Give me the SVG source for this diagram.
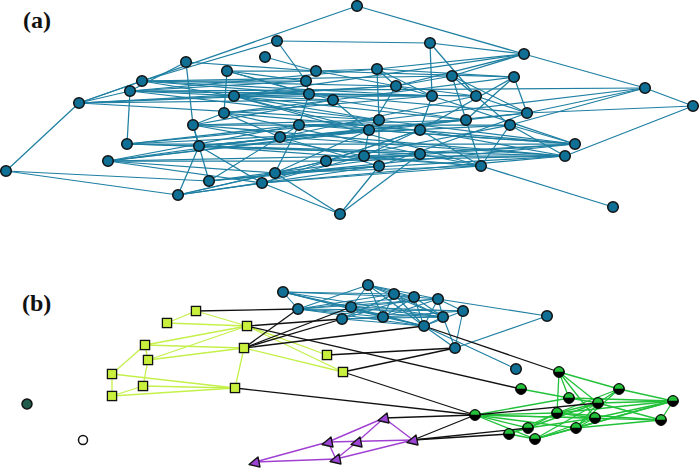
<svg xmlns="http://www.w3.org/2000/svg" xmlns:xlink="http://www.w3.org/1999/xlink" width="700" height="468" viewBox="0 0 700 468">
<style>
.ea{stroke:#1e7fa2;stroke-width:1.25;fill:none}
.eb{stroke:#1e7fa2;stroke-width:1.1;fill:none}
.el{stroke:#c4f04a;stroke-width:1.3;fill:none}
.eg{stroke:#22c13a;stroke-width:1.3;fill:none}
.ep{stroke:#a040d2;stroke-width:1.4;fill:none}
.ek{stroke:#111;stroke-width:1.3;fill:none}
.nb circle{fill:#0f6f94;stroke:#111;stroke-width:1.5}
.lbl{font-family:"Liberation Serif","Times New Roman",serif;font-weight:bold;font-size:24px;fill:#111}
</style>
<defs>
<g id="gn"><circle r="5.4" fill="#000" stroke="#000" stroke-width="1"/><path d="M-4.4,-0.3 A4.4,4.4 0 0 1 4.4,-0.3 Z" fill="#24c23a"/></g>
<rect id="sq" x="-4.6" y="-4.6" width="9.2" height="9.2" fill="#c8f03c" stroke="#111" stroke-width="1.3"/>
<polygon id="tri" points="-6,2.5 3,-5 5,5" fill="#9c45d4" stroke="#111" stroke-width="1.3" stroke-linejoin="round"/>
</defs>
<rect width="700" height="468" fill="#fff"/>
<text class="lbl" x="23" y="28">(a)</text>
<text class="lbl" x="22" y="311">(b)</text>
<g id="connectors">
<g id="edges-a">
<line class="ea" x1="357" y1="6" x2="79" y2="103"/><line class="ea" x1="357" y1="6" x2="524" y2="54"/>
<line class="ea" x1="277" y1="41" x2="430" y2="43"/><line class="ea" x1="277" y1="41" x2="306" y2="81"/>
<line class="ea" x1="277" y1="41" x2="142" y2="81"/><line class="ea" x1="430" y1="43" x2="524" y2="54"/>
<line class="ea" x1="430" y1="43" x2="432" y2="96"/><line class="ea" x1="430" y1="43" x2="476" y2="96"/>
<line class="ea" x1="265" y1="57" x2="316" y2="71"/><line class="ea" x1="186" y1="62" x2="193" y2="125"/>
<line class="ea" x1="186" y1="62" x2="130" y2="91"/><line class="ea" x1="186" y1="62" x2="316" y2="71"/>
<line class="ea" x1="524" y1="54" x2="645" y2="88"/><line class="ea" x1="524" y1="54" x2="377" y2="69"/>
<line class="ea" x1="524" y1="54" x2="452" y2="76"/><line class="ea" x1="524" y1="54" x2="396" y2="86"/>
<line class="ea" x1="524" y1="54" x2="234" y2="96"/><line class="ea" x1="227" y1="71" x2="224" y2="113"/>
<line class="ea" x1="227" y1="71" x2="316" y2="71"/><line class="ea" x1="227" y1="71" x2="306" y2="81"/>
<line class="ea" x1="227" y1="71" x2="333" y2="100"/><line class="ea" x1="227" y1="71" x2="309" y2="94"/>
<line class="ea" x1="316" y1="71" x2="377" y2="69"/><line class="ea" x1="316" y1="71" x2="514" y2="77"/>
<line class="ea" x1="316" y1="71" x2="396" y2="86"/><line class="ea" x1="377" y1="69" x2="396" y2="86"/>
<line class="ea" x1="377" y1="69" x2="379" y2="120"/><line class="ea" x1="377" y1="69" x2="514" y2="77"/>
<line class="ea" x1="377" y1="69" x2="432" y2="96"/><line class="ea" x1="377" y1="69" x2="130" y2="91"/>
<line class="ea" x1="452" y1="76" x2="476" y2="96"/><line class="ea" x1="452" y1="76" x2="396" y2="86"/>
<line class="ea" x1="452" y1="76" x2="142" y2="81"/><line class="ea" x1="452" y1="76" x2="527" y2="113"/>
<line class="ea" x1="452" y1="76" x2="466" y2="120"/><line class="ea" x1="514" y1="77" x2="527" y2="113"/>
<line class="ea" x1="514" y1="77" x2="420" y2="130"/><line class="ea" x1="514" y1="77" x2="466" y2="120"/>
<line class="ea" x1="514" y1="77" x2="333" y2="100"/><line class="ea" x1="142" y1="81" x2="79" y2="103"/>
<line class="ea" x1="142" y1="81" x2="306" y2="81"/><line class="ea" x1="142" y1="81" x2="309" y2="94"/>
<line class="ea" x1="142" y1="81" x2="379" y2="120"/><line class="ea" x1="142" y1="81" x2="396" y2="86"/>
<line class="ea" x1="142" y1="81" x2="432" y2="96"/><line class="ea" x1="306" y1="81" x2="309" y2="94"/>
<line class="ea" x1="306" y1="81" x2="130" y2="91"/><line class="ea" x1="396" y1="86" x2="234" y2="96"/>
<line class="ea" x1="396" y1="86" x2="369" y2="130"/><line class="ea" x1="396" y1="86" x2="432" y2="96"/>
<line class="ea" x1="396" y1="86" x2="476" y2="96"/><line class="ea" x1="645" y1="88" x2="693" y2="106"/>
<line class="ea" x1="645" y1="88" x2="527" y2="113"/><line class="ea" x1="645" y1="88" x2="379" y2="120"/>
<line class="ea" x1="645" y1="88" x2="510" y2="125"/><line class="ea" x1="645" y1="88" x2="130" y2="91"/>
<line class="ea" x1="130" y1="91" x2="79" y2="103"/><line class="ea" x1="130" y1="91" x2="127" y2="144"/>
<line class="ea" x1="130" y1="91" x2="333" y2="100"/><line class="ea" x1="130" y1="91" x2="379" y2="120"/>
<line class="ea" x1="130" y1="91" x2="432" y2="96"/><line class="ea" x1="130" y1="91" x2="476" y2="96"/>
<line class="ea" x1="309" y1="94" x2="299" y2="125"/><line class="ea" x1="309" y1="94" x2="79" y2="103"/>
<line class="ea" x1="309" y1="94" x2="476" y2="96"/><line class="ea" x1="309" y1="94" x2="527" y2="113"/>
<line class="ea" x1="234" y1="96" x2="79" y2="103"/><line class="ea" x1="234" y1="96" x2="466" y2="120"/>
<line class="ea" x1="234" y1="96" x2="432" y2="96"/><line class="ea" x1="234" y1="96" x2="369" y2="130"/>
<line class="ea" x1="234" y1="96" x2="481" y2="166"/><line class="ea" x1="333" y1="100" x2="224" y2="113"/>
<line class="ea" x1="333" y1="100" x2="466" y2="120"/><line class="ea" x1="333" y1="100" x2="369" y2="130"/>
<line class="ea" x1="333" y1="100" x2="193" y2="125"/><line class="ea" x1="432" y1="96" x2="420" y2="130"/>
<line class="ea" x1="432" y1="96" x2="224" y2="113"/><line class="ea" x1="432" y1="96" x2="575" y2="144"/>
<line class="ea" x1="476" y1="96" x2="527" y2="113"/><line class="ea" x1="476" y1="96" x2="510" y2="125"/>
<line class="ea" x1="476" y1="96" x2="280" y2="137"/><line class="ea" x1="79" y1="103" x2="6" y2="171"/>
<line class="ea" x1="79" y1="103" x2="379" y2="120"/><line class="ea" x1="79" y1="103" x2="333" y2="100"/>
<line class="ea" x1="79" y1="103" x2="396" y2="86"/><line class="ea" x1="693" y1="106" x2="527" y2="113"/>
<line class="ea" x1="693" y1="106" x2="565" y2="156"/><line class="ea" x1="224" y1="113" x2="193" y2="125"/>
<line class="ea" x1="224" y1="113" x2="280" y2="137"/><line class="ea" x1="224" y1="113" x2="575" y2="144"/>
<line class="ea" x1="224" y1="113" x2="420" y2="154"/><line class="ea" x1="527" y1="113" x2="466" y2="120"/>
<line class="ea" x1="527" y1="113" x2="199" y2="146"/><line class="ea" x1="527" y1="113" x2="379" y2="166"/>
<line class="ea" x1="379" y1="120" x2="379" y2="166"/><line class="ea" x1="379" y1="120" x2="575" y2="144"/>
<line class="ea" x1="379" y1="120" x2="127" y2="144"/><line class="ea" x1="379" y1="120" x2="193" y2="125"/>
<line class="ea" x1="466" y1="120" x2="481" y2="166"/><line class="ea" x1="466" y1="120" x2="299" y2="125"/>
<line class="ea" x1="466" y1="120" x2="199" y2="146"/><line class="ea" x1="466" y1="120" x2="108" y2="161"/>
<line class="ea" x1="193" y1="125" x2="199" y2="146"/><line class="ea" x1="193" y1="125" x2="565" y2="156"/>
<line class="ea" x1="193" y1="125" x2="364" y2="156"/><line class="ea" x1="193" y1="125" x2="510" y2="125"/>
<line class="ea" x1="193" y1="125" x2="209" y2="181"/><line class="ea" x1="299" y1="125" x2="275" y2="173"/>
<line class="ea" x1="299" y1="125" x2="280" y2="137"/><line class="ea" x1="299" y1="125" x2="127" y2="144"/>
<line class="ea" x1="299" y1="125" x2="420" y2="130"/><line class="ea" x1="299" y1="125" x2="575" y2="144"/>
<line class="ea" x1="299" y1="125" x2="108" y2="161"/><line class="ea" x1="510" y1="125" x2="481" y2="166"/>
<line class="ea" x1="510" y1="125" x2="575" y2="144"/><line class="ea" x1="510" y1="125" x2="565" y2="156"/>
<line class="ea" x1="510" y1="125" x2="326" y2="161"/><line class="ea" x1="510" y1="125" x2="127" y2="144"/>
<line class="ea" x1="369" y1="130" x2="108" y2="161"/><line class="ea" x1="369" y1="130" x2="199" y2="146"/>
<line class="ea" x1="369" y1="130" x2="575" y2="144"/><line class="ea" x1="369" y1="130" x2="275" y2="173"/>
<line class="ea" x1="369" y1="130" x2="364" y2="156"/><line class="ea" x1="420" y1="130" x2="364" y2="156"/>
<line class="ea" x1="420" y1="130" x2="565" y2="156"/><line class="ea" x1="420" y1="130" x2="326" y2="161"/>
<line class="ea" x1="420" y1="130" x2="262" y2="183"/><line class="ea" x1="420" y1="130" x2="481" y2="166"/>
<line class="ea" x1="280" y1="137" x2="108" y2="161"/><line class="ea" x1="280" y1="137" x2="379" y2="166"/>
<line class="ea" x1="280" y1="137" x2="565" y2="156"/><line class="ea" x1="280" y1="137" x2="209" y2="181"/>
<line class="ea" x1="127" y1="144" x2="575" y2="144"/><line class="ea" x1="127" y1="144" x2="420" y2="154"/>
<line class="ea" x1="127" y1="144" x2="565" y2="156"/><line class="ea" x1="199" y1="146" x2="481" y2="166"/>
<line class="ea" x1="199" y1="146" x2="262" y2="183"/><line class="ea" x1="199" y1="146" x2="178" y2="195"/>
<line class="ea" x1="199" y1="146" x2="420" y2="154"/><line class="ea" x1="575" y1="144" x2="364" y2="156"/>
<line class="ea" x1="575" y1="144" x2="326" y2="161"/><line class="ea" x1="575" y1="144" x2="209" y2="181"/>
<line class="ea" x1="565" y1="156" x2="326" y2="161"/><line class="ea" x1="565" y1="156" x2="275" y2="173"/>
<line class="ea" x1="565" y1="156" x2="364" y2="156"/><line class="ea" x1="565" y1="156" x2="262" y2="183"/>
<line class="ea" x1="364" y1="156" x2="481" y2="166"/><line class="ea" x1="364" y1="156" x2="108" y2="161"/>
<line class="ea" x1="364" y1="156" x2="262" y2="183"/><line class="ea" x1="420" y1="154" x2="326" y2="161"/>
<line class="ea" x1="420" y1="154" x2="209" y2="181"/><line class="ea" x1="420" y1="154" x2="481" y2="166"/>
<line class="ea" x1="420" y1="154" x2="340" y2="214"/><line class="ea" x1="108" y1="161" x2="326" y2="161"/>
<line class="ea" x1="108" y1="161" x2="275" y2="173"/><line class="ea" x1="108" y1="161" x2="262" y2="183"/>
<line class="ea" x1="326" y1="161" x2="275" y2="173"/><line class="ea" x1="326" y1="161" x2="178" y2="195"/>
<line class="ea" x1="379" y1="166" x2="275" y2="173"/><line class="ea" x1="379" y1="166" x2="178" y2="195"/>
<line class="ea" x1="379" y1="166" x2="340" y2="214"/><line class="ea" x1="379" y1="166" x2="209" y2="181"/>
<line class="ea" x1="481" y1="166" x2="613" y2="207"/><line class="ea" x1="481" y1="166" x2="262" y2="183"/>
<line class="ea" x1="481" y1="166" x2="275" y2="173"/><line class="ea" x1="6" y1="171" x2="178" y2="195"/>
<line class="ea" x1="6" y1="171" x2="209" y2="181"/><line class="ea" x1="275" y1="173" x2="340" y2="214"/>
<line class="ea" x1="262" y1="183" x2="340" y2="214"/><line class="ea" x1="178" y1="195" x2="262" y2="183"/>
<line class="ea" x1="178" y1="195" x2="275" y2="173"/>
</g>
<g id="edges-b-blue">
<line class="eb" x1="283" y1="292" x2="394" y2="294"/><line class="eb" x1="283" y1="292" x2="351" y2="307"/>
<line class="eb" x1="283" y1="292" x2="383" y2="317"/><line class="eb" x1="283" y1="292" x2="443" y2="317"/>
<line class="eb" x1="283" y1="292" x2="424" y2="326"/><line class="eb" x1="283" y1="292" x2="298" y2="309"/>
<line class="eb" x1="283" y1="292" x2="414" y2="297"/>
<line class="eb" x1="368" y1="285" x2="351" y2="307"/><line class="eb" x1="368" y1="285" x2="394" y2="294"/>
<line class="eb" x1="368" y1="285" x2="414" y2="297"/><line class="eb" x1="368" y1="285" x2="438" y2="299"/>
<line class="eb" x1="368" y1="285" x2="298" y2="309"/><line class="eb" x1="368" y1="285" x2="443" y2="317"/>
<line class="eb" x1="368" y1="285" x2="424" y2="326"/><line class="eb" x1="368" y1="285" x2="383" y2="317"/>
<line class="eb" x1="298" y1="309" x2="394" y2="294"/><line class="eb" x1="298" y1="309" x2="414" y2="297"/>
<line class="eb" x1="298" y1="309" x2="438" y2="299"/><line class="eb" x1="298" y1="309" x2="383" y2="317"/>
<line class="eb" x1="298" y1="309" x2="443" y2="317"/><line class="eb" x1="298" y1="309" x2="424" y2="326"/>
<line class="eb" x1="298" y1="309" x2="463" y2="311"/><line class="eb" x1="351" y1="307" x2="438" y2="299"/>
<line class="eb" x1="351" y1="307" x2="443" y2="317"/><line class="eb" x1="351" y1="307" x2="463" y2="311"/>
<line class="eb" x1="351" y1="307" x2="383" y2="317"/><line class="eb" x1="351" y1="307" x2="424" y2="326"/>
<line class="eb" x1="342" y1="319" x2="394" y2="294"/><line class="eb" x1="342" y1="319" x2="383" y2="317"/>
<line class="eb" x1="342" y1="319" x2="414" y2="297"/><line class="eb" x1="342" y1="319" x2="443" y2="317"/>
<line class="eb" x1="342" y1="319" x2="424" y2="326"/><line class="eb" x1="394" y1="294" x2="383" y2="317"/>
<line class="eb" x1="394" y1="294" x2="443" y2="317"/><line class="eb" x1="394" y1="294" x2="424" y2="326"/>
<line class="eb" x1="394" y1="294" x2="414" y2="297"/><line class="eb" x1="414" y1="297" x2="438" y2="299"/>
<line class="eb" x1="414" y1="297" x2="424" y2="326"/><line class="eb" x1="414" y1="297" x2="443" y2="317"/>
<line class="eb" x1="414" y1="297" x2="383" y2="317"/><line class="eb" x1="438" y1="299" x2="547" y2="316"/>
<line class="eb" x1="438" y1="299" x2="443" y2="317"/><line class="eb" x1="438" y1="299" x2="463" y2="311"/>
<line class="eb" x1="438" y1="299" x2="424" y2="326"/><line class="eb" x1="438" y1="299" x2="383" y2="317"/>
<line class="eb" x1="383" y1="317" x2="443" y2="317"/><line class="eb" x1="383" y1="317" x2="463" y2="311"/>
<line class="eb" x1="383" y1="317" x2="424" y2="326"/><line class="eb" x1="443" y1="317" x2="455" y2="348"/>
<line class="eb" x1="443" y1="317" x2="424" y2="326"/><line class="eb" x1="463" y1="311" x2="455" y2="348"/>
<line class="eb" x1="463" y1="311" x2="424" y2="326"/><line class="eb" x1="424" y1="326" x2="455" y2="348"/>
<line class="eb" x1="424" y1="326" x2="516" y2="369"/><line class="eb" x1="455" y1="348" x2="547" y2="316"/>
</g>
<g id="edges-b-lime">
<line class="el" x1="196" y1="311" x2="167" y2="323"/><line class="el" x1="196" y1="311" x2="247" y2="326"/>
<line class="el" x1="167" y1="323" x2="247" y2="326"/><line class="el" x1="247" y1="326" x2="145" y2="345"/>
<line class="el" x1="247" y1="326" x2="148" y2="360"/><line class="el" x1="247" y1="326" x2="343" y2="372"/>
<line class="el" x1="247" y1="326" x2="327" y2="355"/>
<line class="el" x1="145" y1="345" x2="244" y2="348"/><line class="el" x1="145" y1="345" x2="148" y2="360"/>
<line class="el" x1="145" y1="345" x2="112" y2="374"/><line class="el" x1="148" y1="360" x2="244" y2="348"/>
<line class="el" x1="148" y1="360" x2="143" y2="386"/><line class="el" x1="112" y1="374" x2="112" y2="396"/>
<line class="el" x1="112" y1="374" x2="235" y2="388"/><line class="el" x1="143" y1="386" x2="235" y2="388"/>
<line class="el" x1="112" y1="396" x2="235" y2="388"/><line class="el" x1="112" y1="396" x2="143" y2="386"/>
<line class="el" x1="244" y1="348" x2="235" y2="388"/><line class="el" x1="244" y1="348" x2="343" y2="372"/>
</g>
<g id="edges-b-green">
<line class="eg" x1="559" y1="372" x2="619" y2="389"/><line class="eg" x1="559" y1="372" x2="569" y2="398"/>
<line class="eg" x1="559" y1="372" x2="598" y2="403"/><line class="eg" x1="559" y1="372" x2="557" y2="413"/>
<line class="eg" x1="559" y1="372" x2="595" y2="418"/><line class="eg" x1="521" y1="389" x2="569" y2="398"/>
<line class="eg" x1="619" y1="389" x2="673" y2="401"/><line class="eg" x1="619" y1="389" x2="557" y2="413"/>
<line class="eg" x1="619" y1="389" x2="598" y2="403"/><line class="eg" x1="619" y1="389" x2="576" y2="428"/>
<line class="eg" x1="673" y1="401" x2="661" y2="420"/><line class="eg" x1="673" y1="401" x2="569" y2="398"/>
<line class="eg" x1="673" y1="401" x2="557" y2="413"/><line class="eg" x1="673" y1="401" x2="598" y2="403"/>
<line class="eg" x1="673" y1="401" x2="576" y2="428"/><line class="eg" x1="673" y1="401" x2="595" y2="418"/>
<line class="eg" x1="475" y1="415" x2="557" y2="413"/><line class="eg" x1="475" y1="415" x2="595" y2="418"/>
<line class="eg" x1="475" y1="415" x2="528" y2="428"/><line class="eg" x1="475" y1="415" x2="576" y2="428"/>
<line class="eg" x1="475" y1="415" x2="535" y2="439"/><line class="eg" x1="475" y1="415" x2="661" y2="420"/>
<line class="eg" x1="475" y1="415" x2="569" y2="398"/><line class="eg" x1="661" y1="420" x2="576" y2="428"/>
<line class="eg" x1="661" y1="420" x2="557" y2="413"/><line class="eg" x1="661" y1="420" x2="598" y2="403"/>
<line class="eg" x1="528" y1="428" x2="509" y2="434"/><line class="eg" x1="528" y1="428" x2="598" y2="403"/>
<line class="eg" x1="528" y1="428" x2="595" y2="418"/><line class="eg" x1="528" y1="428" x2="557" y2="413"/>
<line class="eg" x1="509" y1="434" x2="535" y2="439"/><line class="eg" x1="509" y1="434" x2="557" y2="413"/>
<line class="eg" x1="509" y1="434" x2="598" y2="403"/><line class="eg" x1="535" y1="439" x2="595" y2="418"/>
<line class="eg" x1="535" y1="439" x2="598" y2="403"/><line class="eg" x1="535" y1="439" x2="576" y2="428"/>
<line class="eg" x1="535" y1="439" x2="673" y2="401"/><line class="eg" x1="557" y1="413" x2="595" y2="418"/>
<line class="eg" x1="576" y1="428" x2="595" y2="418"/><line class="eg" x1="576" y1="428" x2="598" y2="403"/>
<line class="eg" x1="569" y1="398" x2="598" y2="403"/><line class="eg" x1="557" y1="413" x2="598" y2="403"/>
</g>
<g id="edges-b-purple">
<line class="ep" x1="384" y1="418" x2="413" y2="440"/><line class="ep" x1="384" y1="418" x2="328" y2="442"/>
<line class="ep" x1="384" y1="418" x2="357" y2="442"/><line class="ep" x1="328" y1="442" x2="413" y2="440"/>
<line class="ep" x1="328" y1="442" x2="336" y2="459"/><line class="ep" x1="357" y1="442" x2="336" y2="459"/>
<line class="ep" x1="336" y1="459" x2="413" y2="440"/><line class="ep" x1="255" y1="462" x2="328" y2="442"/>
<line class="ep" x1="255" y1="462" x2="336" y2="459"/>
</g>
<g id="edges-b-between">
<line class="ek" x1="196" y1="311" x2="298" y2="309"/><line class="ek" x1="247" y1="326" x2="342" y2="319"/>
<line class="ek" x1="247" y1="326" x2="521" y2="389"/><line class="ek" x1="244" y1="348" x2="298" y2="309"/>
<line class="ek" x1="244" y1="348" x2="351" y2="307"/><line class="ek" x1="244" y1="348" x2="342" y2="319"/>
<line class="ek" x1="244" y1="348" x2="424" y2="326"/><line class="ek" x1="327" y1="355" x2="455" y2="348"/>
<line class="ek" x1="343" y1="372" x2="455" y2="348"/><line class="ek" x1="343" y1="372" x2="475" y2="415"/>
<line class="ek" x1="235" y1="388" x2="475" y2="415"/><line class="ek" x1="424" y1="326" x2="559" y2="372"/>
<line class="ek" x1="475" y1="415" x2="384" y2="418"/><line class="ek" x1="475" y1="415" x2="413" y2="440"/>
<line class="ek" x1="413" y1="440" x2="509" y2="434"/><line class="ek" x1="413" y1="440" x2="528" y2="428"/>
<line class="ek" x1="475" y1="415" x2="598" y2="403"/>
</g>
</g>
<g id="nodes-a" class="nb">
<g id="a1"><circle cx="357" cy="6" r="5.3"/></g><g id="a2"><circle cx="277" cy="41" r="5.3"/></g>
<g id="a3"><circle cx="430" cy="43" r="5.3"/></g><g id="a4"><circle cx="265" cy="57" r="5.3"/></g>
<g id="a5"><circle cx="186" cy="62" r="5.3"/></g><g id="a6"><circle cx="524" cy="54" r="5.3"/></g>
<g id="a7"><circle cx="227" cy="71" r="5.3"/></g><g id="a8"><circle cx="316" cy="71" r="5.3"/></g>
<g id="a9"><circle cx="377" cy="69" r="5.3"/></g><g id="a10"><circle cx="452" cy="76" r="5.3"/></g>
<g id="a11"><circle cx="514" cy="77" r="5.3"/></g><g id="a12"><circle cx="142" cy="81" r="5.3"/></g>
<g id="a13"><circle cx="306" cy="81" r="5.3"/></g><g id="a14"><circle cx="396" cy="86" r="5.3"/></g>
<g id="a15"><circle cx="645" cy="88" r="5.3"/></g><g id="a16"><circle cx="130" cy="91" r="5.3"/></g>
<g id="a17"><circle cx="309" cy="94" r="5.3"/></g><g id="a18"><circle cx="234" cy="96" r="5.3"/></g>
<g id="a19"><circle cx="333" cy="100" r="5.3"/></g><g id="a20"><circle cx="432" cy="96" r="5.3"/></g>
<g id="a21"><circle cx="476" cy="96" r="5.3"/></g><g id="a22"><circle cx="79" cy="103" r="5.3"/></g>
<g id="a23"><circle cx="693" cy="106" r="5.3"/></g><g id="a24"><circle cx="224" cy="113" r="5.3"/></g>
<g id="a25"><circle cx="527" cy="113" r="5.3"/></g><g id="a26"><circle cx="379" cy="120" r="5.3"/></g>
<g id="a27"><circle cx="466" cy="120" r="5.3"/></g><g id="a28"><circle cx="193" cy="125" r="5.3"/></g>
<g id="a29"><circle cx="299" cy="125" r="5.3"/></g><g id="a30"><circle cx="510" cy="125" r="5.3"/></g>
<g id="a31"><circle cx="369" cy="130" r="5.3"/></g><g id="a32"><circle cx="420" cy="130" r="5.3"/></g>
<g id="a33"><circle cx="280" cy="137" r="5.3"/></g><g id="a34"><circle cx="127" cy="144" r="5.3"/></g>
<g id="a35"><circle cx="199" cy="146" r="5.3"/></g><g id="a36"><circle cx="575" cy="144" r="5.3"/></g>
<g id="a37"><circle cx="565" cy="156" r="5.3"/></g><g id="a38"><circle cx="364" cy="156" r="5.3"/></g>
<g id="a39"><circle cx="420" cy="154" r="5.3"/></g><g id="a40"><circle cx="108" cy="161" r="5.3"/></g>
<g id="a41"><circle cx="326" cy="161" r="5.3"/></g><g id="a42"><circle cx="379" cy="166" r="5.3"/></g>
<g id="a43"><circle cx="481" cy="166" r="5.3"/></g><g id="a44"><circle cx="6" cy="171" r="5.3"/></g>
<g id="a45"><circle cx="275" cy="173" r="5.3"/></g><g id="a46"><circle cx="209" cy="181" r="5.3"/></g>
<g id="a47"><circle cx="262" cy="183" r="5.3"/></g><g id="a48"><circle cx="178" cy="195" r="5.3"/></g>
<g id="a49"><circle cx="340" cy="214" r="5.3"/></g><g id="a50"><circle cx="613" cy="207" r="5.3"/></g>
</g>
<g id="nodes-b-blue" class="nb">
<g id="b1"><circle cx="283" cy="292" r="5.3"/></g><g id="b2"><circle cx="368" cy="285" r="5.3"/></g>
<g id="b3"><circle cx="394" cy="294" r="5.3"/></g><g id="b4"><circle cx="414" cy="297" r="5.3"/></g>
<g id="b5"><circle cx="438" cy="299" r="5.3"/></g><g id="b6"><circle cx="298" cy="309" r="5.3"/></g>
<g id="b7"><circle cx="351" cy="307" r="5.3"/></g><g id="b8"><circle cx="342" cy="319" r="5.3"/></g>
<g id="b9"><circle cx="383" cy="317" r="5.3"/></g><g id="b10"><circle cx="443" cy="317" r="5.3"/></g>
<g id="b11"><circle cx="463" cy="311" r="5.3"/></g><g id="b12"><circle cx="424" cy="326" r="5.3"/></g>
<g id="b13"><circle cx="547" cy="316" r="5.3"/></g><g id="b14"><circle cx="455" cy="348" r="5.3"/></g>
<g id="b15"><circle cx="516" cy="369" r="5.3"/></g>
</g>
<g id="nodes-b-lime">
<g id="s1"><use href="#sq" x="196" y="311"/></g><g id="s2"><use href="#sq" x="167" y="323"/></g>
<g id="s3"><use href="#sq" x="247" y="326"/></g><g id="s4"><use href="#sq" x="145" y="345"/></g>
<g id="s5"><use href="#sq" x="244" y="348"/></g><g id="s6"><use href="#sq" x="148" y="360"/></g>
<g id="s7"><use href="#sq" x="112" y="374"/></g><g id="s8"><use href="#sq" x="143" y="386"/></g>
<g id="s9"><use href="#sq" x="112" y="396"/></g><g id="s10"><use href="#sq" x="235" y="388"/></g>
<g id="s11"><use href="#sq" x="327" y="355"/></g><g id="s12"><use href="#sq" x="343" y="372"/></g>
</g>
<g id="nodes-b-green">
<g id="g1"><use href="#gn" x="559" y="372"/></g><g id="g2"><use href="#gn" x="521" y="389"/></g>
<g id="g3"><use href="#gn" x="619" y="389"/></g><g id="g4"><use href="#gn" x="673" y="401"/></g>
<g id="g5"><use href="#gn" x="569" y="398"/></g><g id="g6"><use href="#gn" x="598" y="403"/></g>
<g id="g7"><use href="#gn" x="475" y="415"/></g><g id="g8"><use href="#gn" x="557" y="413"/></g>
<g id="g9"><use href="#gn" x="595" y="418"/></g><g id="g10"><use href="#gn" x="661" y="420"/></g>
<g id="g11"><use href="#gn" x="528" y="428"/></g><g id="g12"><use href="#gn" x="576" y="428"/></g>
<g id="g13"><use href="#gn" x="509" y="434"/></g><g id="g14"><use href="#gn" x="535" y="439"/></g>
</g>
<g id="nodes-b-purple">
<g id="t1"><use href="#tri" x="384" y="418"/></g><g id="t2"><use href="#tri" x="413" y="440"/></g>
<g id="t3"><use href="#tri" x="328" y="442"/></g><g id="t4"><use href="#tri" x="357" y="442"/></g>
<g id="t5"><use href="#tri" x="336" y="459"/></g><g id="t6"><use href="#tri" x="255" y="462"/></g>
</g>
<g id="iso1"><circle cx="27" cy="404" r="5" fill="#1f5c4c" stroke="#111" stroke-width="1.5"/></g>
<g id="iso2"><circle cx="83" cy="440" r="4.5" fill="#fff" stroke="#111" stroke-width="1.5"/></g>
</svg>
